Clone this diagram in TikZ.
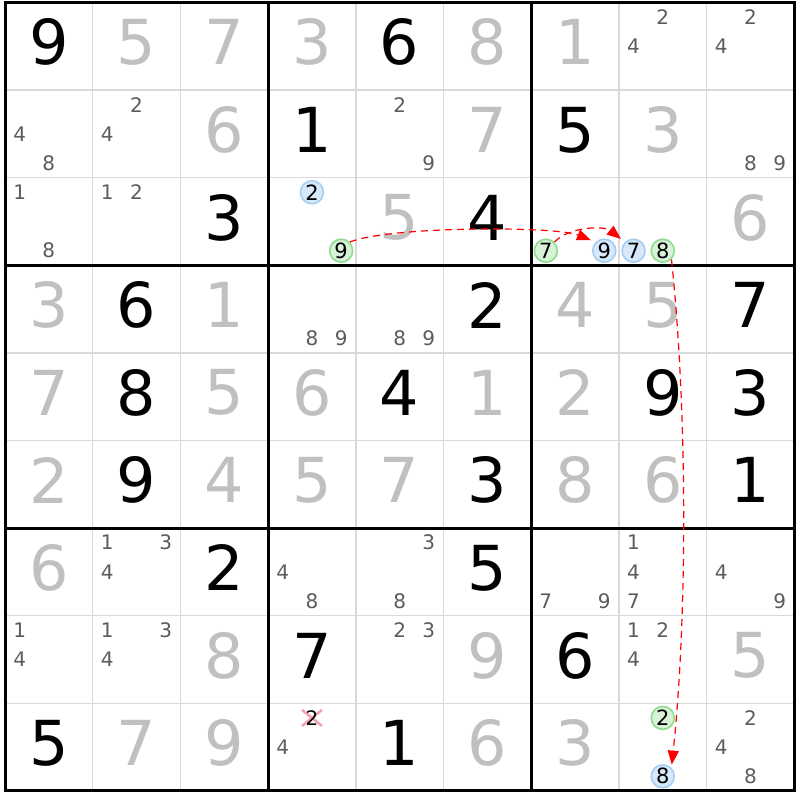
\documentclass[tikz,border=0pt]{standalone}
\usepackage{fontspec}
\setmainfont{DejaVu Sans}
\usetikzlibrary{arrows.meta}
\definecolor{solvedgray}{HTML}{C0C0C0}
\definecolor{candgray}{HTML}{5C5C5C}
\definecolor{gridgray}{HTML}{D9D9D9}
\definecolor{hlbluefill}{HTML}{D6E8FA}
\definecolor{hlblueline}{HTML}{A6CEF5}
\definecolor{hlgreenfill}{HTML}{D8F2D8}
\definecolor{hlgreenline}{HTML}{8EDC8E}
\definecolor{crosspink}{HTML}{F4A0B4}
\definecolor{chainred}{HTML}{FF0000}
\tikzset{
  given/.style={inner sep=0pt, font=\fontsize{62}{64}\selectfont, text=black},
  solved/.style={inner sep=0pt, font=\fontsize{62}{64}\selectfont, text=solvedgray},
  cand/.style={inner sep=0pt, font=\fontsize{20}{22}\selectfont, text=candgray},
  hlblue/.style={circle, inner sep=0pt, minimum size=23pt, fill=hlbluefill, draw=hlblueline, line width=1.6pt, font=\fontsize{21}{22}\selectfont, text=black},
  hlgreen/.style={circle, inner sep=0pt, minimum size=23pt, fill=hlgreenfill, draw=hlgreenline, line width=1.6pt, font=\fontsize{21}{22}\selectfont, text=black},
  thinline/.style={gridgray, line width=1.5pt},
  thickline/.style={black, line width=3pt},
  chain/.style={chainred, dashed, dash pattern=on 7pt off 5pt, line width=1.2pt, -{Triangle[length=14pt,width=11pt]}},
  crossmark/.style={crosspink, line width=2.5pt}
}
\newcommand\giv[3]{\node[given] (d#1#2) at ({5+(#2-0.5)*87.7},{2.5+(#1-0.5)*87.6-4}) {#3};}
\newcommand\sol[3]{\node[solved] (d#1#2) at ({5+(#2-0.5)*87.7},{2.5+(#1-0.5)*87.6-4}) {#3};}
\newcommand\cnd[3]{\foreach \k in {#3}{%
  \pgfmathsetmacro\dx{(mod(\k-1,3)-1)*29.2}%
  \pgfmathsetmacro\dy{(floor((\k-1)/3)-1)*29.2}%
  \node[cand] (c#1#2-\k) at ({5+(#2-0.5)*87.7+\dx},{2.5+(#1-0.5)*87.6+\dy}) {\k};}}
\newcommand\hlc[4]{%
  \pgfmathsetmacro\dx{(mod(#3-1,3)-1)*29.2}%
  \pgfmathsetmacro\dy{(floor((#3-1)/3)-1)*29.2}%
  \node[#4] (h#1#2-#3) at ({5+(#2-0.5)*87.7+\dx},{2.5+(#1-0.5)*87.6+\dy}) {#3};}
\begin{document}
\begin{tikzpicture}[x=1pt,y=-1pt]
\useasboundingbox (0,0) rectangle (800,800);
\fill[white] (0,0) rectangle (800,800);
% thin grid
\foreach \i in {1,2,4,5,7,8}{
  \draw[thinline] ({5+\i*87.7},2.5) -- ({5+\i*87.7},{2.5+9*87.6});
  \draw[thinline] (5,{2.5+\i*87.6}) -- ({5+9*87.7},{2.5+\i*87.6});
}
% thick grid
\foreach \i in {3,6}{
  \draw[thickline] ({5+\i*87.7},2.5) -- ({5+\i*87.7},{2.5+9*87.6});
  \draw[thickline] (5,{2.5+\i*87.6}) -- ({5+9*87.7},{2.5+\i*87.6});
}
\draw[thickline] (5,2.5) rectangle ({5+9*87.7},{2.5+9*87.6});
% row 1
\giv{1}{1}{9}\sol{1}{2}{5}\sol{1}{3}{7}\sol{1}{4}{3}\giv{1}{5}{6}\sol{1}{6}{8}\sol{1}{7}{1}\cnd{1}{8}{2,4}\cnd{1}{9}{2,4}
% row 2
\cnd{2}{1}{4,8}\cnd{2}{2}{2,4}\sol{2}{3}{6}\giv{2}{4}{1}\cnd{2}{5}{2,9}\sol{2}{6}{7}\giv{2}{7}{5}\sol{2}{8}{3}\cnd{2}{9}{8,9}
% row 3
\cnd{3}{1}{1,8}\cnd{3}{2}{1,2}\giv{3}{3}{3}\hlc{3}{4}{2}{hlblue}\hlc{3}{4}{9}{hlgreen}\sol{3}{5}{5}\giv{3}{6}{4}
\hlc{3}{7}{7}{hlgreen}\hlc{3}{7}{9}{hlblue}\hlc{3}{8}{7}{hlblue}\hlc{3}{8}{8}{hlgreen}\sol{3}{9}{6}
% row 4
\sol{4}{1}{3}\giv{4}{2}{6}\sol{4}{3}{1}\cnd{4}{4}{8,9}\cnd{4}{5}{8,9}\giv{4}{6}{2}\sol{4}{7}{4}\sol{4}{8}{5}\giv{4}{9}{7}
% row 5
\sol{5}{1}{7}\giv{5}{2}{8}\sol{5}{3}{5}\sol{5}{4}{6}\giv{5}{5}{4}\sol{5}{6}{1}\sol{5}{7}{2}\giv{5}{8}{9}\giv{5}{9}{3}
% row 6
\sol{6}{1}{2}\giv{6}{2}{9}\sol{6}{3}{4}\sol{6}{4}{5}\sol{6}{5}{7}\giv{6}{6}{3}\sol{6}{7}{8}\sol{6}{8}{6}\giv{6}{9}{1}
% row 7
\sol{7}{1}{6}\cnd{7}{2}{1,3,4}\giv{7}{3}{2}\cnd{7}{4}{4,8}\cnd{7}{5}{3,8}\giv{7}{6}{5}\cnd{7}{7}{7,9}\cnd{7}{8}{1,4,7}\cnd{7}{9}{4,9}
% row 8
\cnd{8}{1}{1,4}\cnd{8}{2}{1,3,4}\sol{8}{3}{8}\giv{8}{4}{7}\cnd{8}{5}{2,3}\sol{8}{6}{9}\giv{8}{7}{6}\cnd{8}{8}{1,2,4}\sol{8}{9}{5}
% row 9
\giv{9}{1}{5}\sol{9}{2}{7}\sol{9}{3}{9}\cnd{9}{4}{4}
\coordinate (x94-2) at ({5+3.5*87.7},{2.5+8.5*87.6-29.2});
\draw[crossmark] ([xshift=-10pt,yshift=8pt]x94-2) -- ([xshift=10pt,yshift=-8pt]x94-2);
\draw[crossmark] ([xshift=-10pt,yshift=-8pt]x94-2) -- ([xshift=10pt,yshift=8pt]x94-2);
\node[inner sep=0pt, font=\fontsize{20}{22}\selectfont, text=black] (c94-2) at (x94-2) {2};
\giv{9}{5}{1}\sol{9}{6}{6}\sol{9}{7}{3}\hlc{9}{8}{2}{hlgreen}\hlc{9}{8}{8}{hlblue}\cnd{9}{9}{2,4,8}
% chain
\draw[chain, shorten >=5pt] (h34-9.45) .. controls +(40,-16) and +(-40,-16) .. (h37-9.135);
\draw[chain, shorten >=5pt] (h37-7.45) .. controls +(15,-16) and +(-20,-16) .. (h38-7.135);
\draw[chain, shorten >=3pt] (h38-8.-45) .. controls +(16,150) and +(16,-150) .. (h98-8.45);
\end{tikzpicture}
\end{document}
